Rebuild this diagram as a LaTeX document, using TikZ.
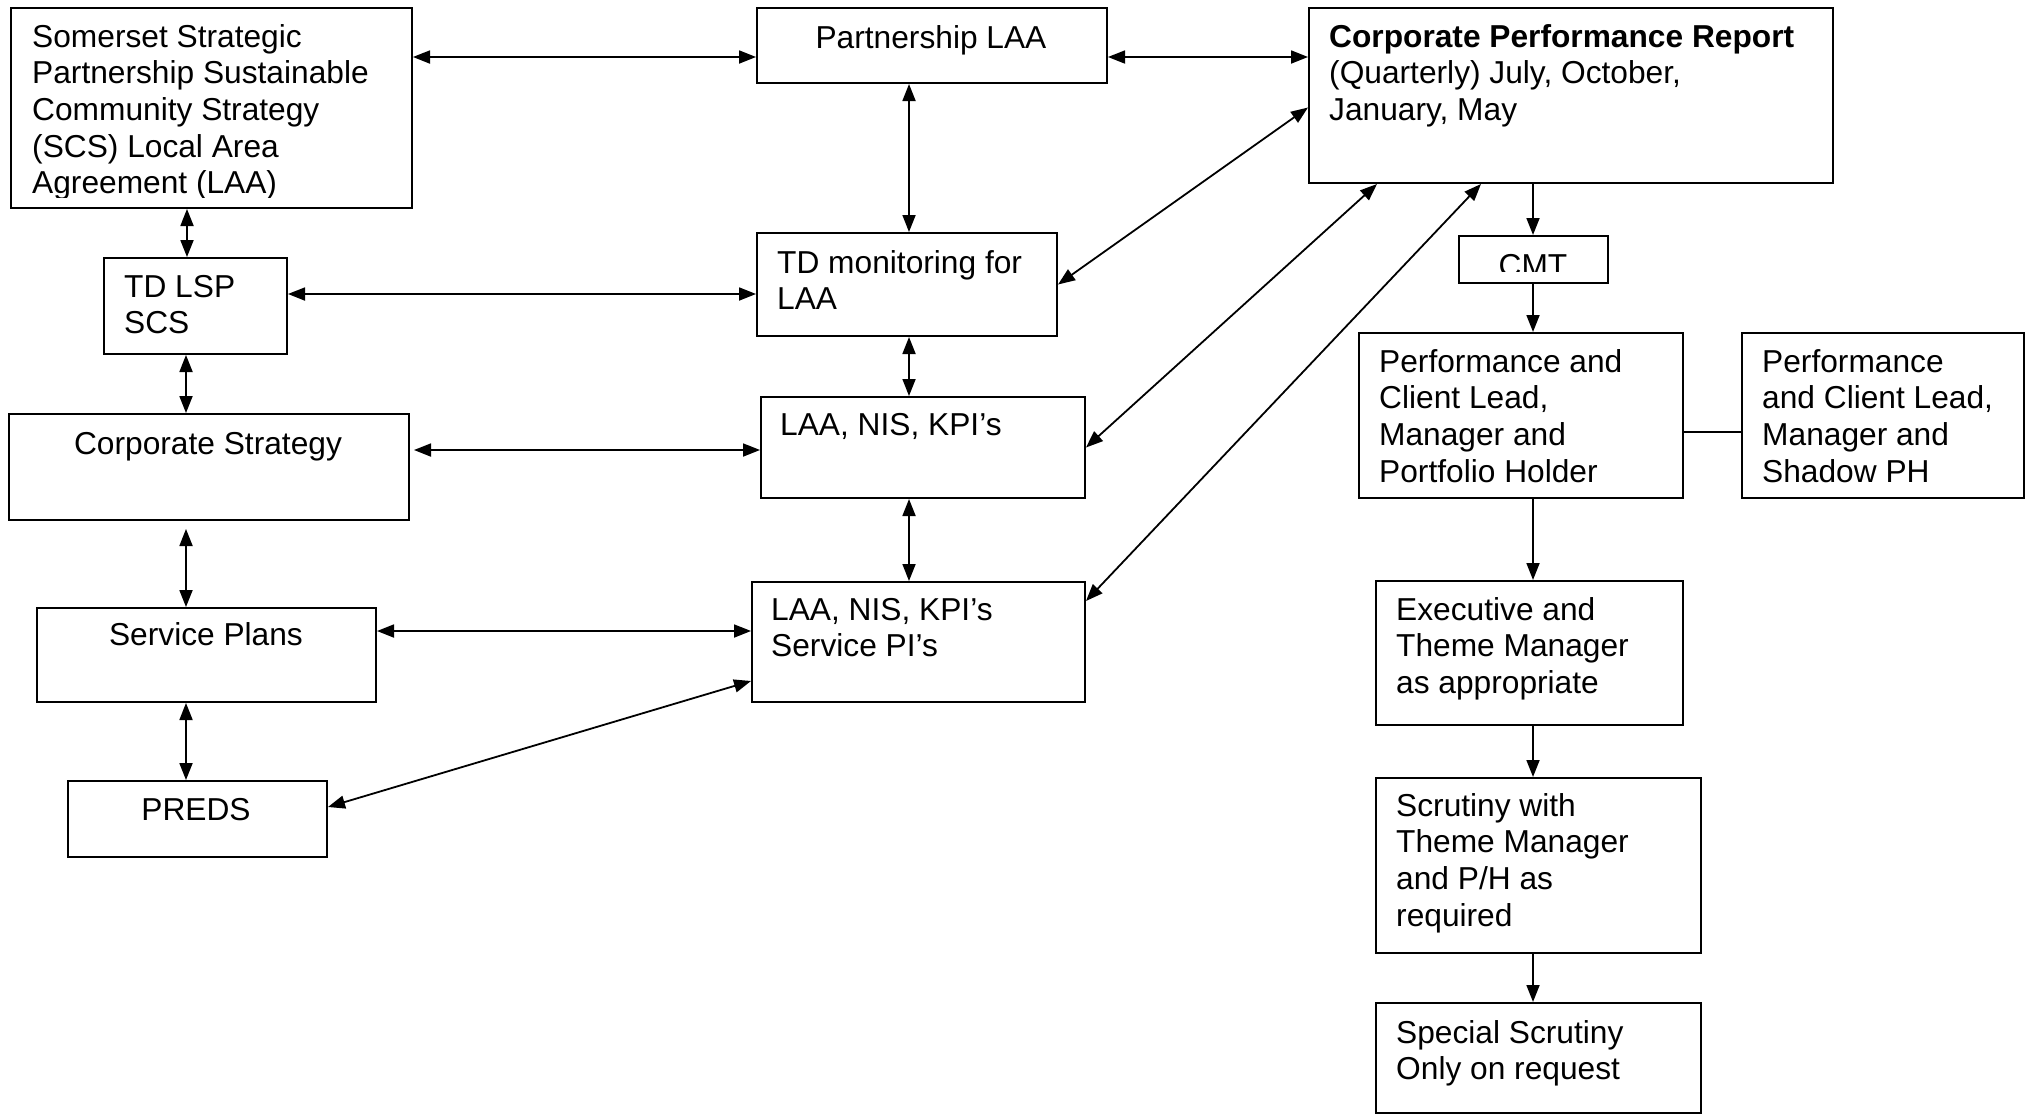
\documentclass[tikz,border=0pt]{standalone}
\usepackage{fontspec}
\setmainfont{Liberation Sans}
\usetikzlibrary{arrows.meta}
\newcommand{\mlines}[1]{\parbox[t]{600pt}{\raggedright #1}}
\begin{document}
\begin{tikzpicture}[x=1pt,y=-1pt,
  every node/.style={font=\fontsize{31.7}{36.7}\selectfont, inner sep=0pt},
  box/.style={draw, line width=2pt, anchor=north west},
  dbl/.style={line width=1.8pt, {Triangle[length=17pt,width=13pt]}-{Triangle[length=17pt,width=13pt]}},
  one/.style={line width=1.8pt, -{Triangle[length=17pt,width=13pt]}},
  plain/.style={line width=1.8pt}]
\useasboundingbox (0,0) rectangle (2029,1114);

% boxes
\node[box, minimum width=401pt, minimum height=200pt] (ssp) at (10,7) {};
\node[box, minimum width=350pt, minimum height=75pt] (plaa) at (756,7) {};
\node[box, minimum width=524pt, minimum height=175pt] (cpr) at (1308,7) {};
\node[box, minimum width=183pt, minimum height=96pt] (tdlsp) at (103,257) {};
\node[box, minimum width=300pt, minimum height=103pt] (tdmon) at (756,232) {};
\node[box, minimum width=149pt, minimum height=47pt] (cmt) at (1458,235) {};
\node[box, minimum width=400pt, minimum height=106pt] (cs) at (8,413) {};
\node[box, minimum width=324pt, minimum height=101pt] (laa1) at (760,396) {};
\node[box, minimum width=324pt, minimum height=165pt] (pcl) at (1358,332) {};
\node[box, minimum width=282pt, minimum height=165pt] (shadow) at (1741,332) {};
\node[box, minimum width=339pt, minimum height=94pt] (sp) at (36,607) {};
\node[box, minimum width=333pt, minimum height=120pt] (laa2) at (751,581) {};
\node[box, minimum width=307pt, minimum height=144pt] (exec) at (1375,580) {};
\node[box, minimum width=259pt, minimum height=76pt] (preds) at (67,780) {};
\node[box, minimum width=325pt, minimum height=175pt] (scr) at (1375,777) {};
\node[box, minimum width=325pt, minimum height=110pt] (special) at (1375,1002) {};

% texts
\begin{scope}
\clip (12,9) rectangle (409,197);
\node[anchor=base west] (ssp-t) at (32,47) {\mlines{Somerset Strategic\\Partnership Sustainable\\Community Strategy\\(SCS) Local Area\\Agreement (LAA)}};
\end{scope}
\node[anchor=base] (plaa-t) at (931,48) {Partnership LAA};
\node[anchor=base west] (cpr-t) at (1329,47) {\mlines{\textbf{Corporate Performance Report}\\(Quarterly) July, October,\\January, May}};
\node[anchor=base west] (tdlsp-t) at (124,297) {\mlines{TD LSP\\SCS}};
\node[anchor=base west] (tdmon-t) at (777,273) {\mlines{TD monitoring for\\LAA}};
\begin{scope}
\clip (1460,237) rectangle (1605,271);
\node[anchor=base] (cmt-t) at (1533,276) {CMT};
\end{scope}
\node[anchor=base] (cs-t) at (208,454) {Corporate Strategy};
\node[anchor=base west] (laa1-t) at (780,435) {LAA, NIS, KPI’s};
\node[anchor=base west] (pcl-t) at (1379,372) {\mlines{Performance and\\Client Lead,\\Manager and\\Portfolio Holder}};
\node[anchor=base west] (shadow-t) at (1762,372) {\mlines{Performance\\and Client Lead,\\Manager and\\Shadow PH}};
\node[anchor=base] (sp-t) at (206,645) {Service Plans};
\node[anchor=base west] (laa2-t) at (771,620) {\mlines{LAA, NIS, KPI’s\\Service PI’s}};
\node[anchor=base west] (exec-t) at (1396,620) {\mlines{Executive and\\Theme Manager\\as appropriate}};
\node[anchor=base] (preds-t) at (196,820) {PREDS};
\node[anchor=base west] (scr-t) at (1396,816) {\mlines{Scrutiny with\\Theme Manager\\and P/H as\\required}};
\node[anchor=base west] (special-t) at (1396,1043) {\mlines{Special Scrutiny\\Only on request}};

% connectors
\draw[dbl] (ssp.east |- 0,57) -- (plaa.west |- 0,57);
\draw[dbl] (plaa.east |- 0,57) -- (cpr.west |- 0,57);
\draw[dbl] (ssp.south -| 187,0) -- (tdlsp.north -| 187,0);
\draw[dbl] (tdlsp.south -| 186,0) -- (cs.north -| 186,0);
\draw[dbl, shorten <=8pt] (cs.south -| 186,0) -- (sp.north -| 186,0);
\draw[dbl] (sp.south -| 186,0) -- (preds.north -| 186,0);
\draw[dbl] (tdlsp.east |- 0,294) -- (tdmon.west |- 0,294);
\draw[dbl] (plaa.south -| 909,0) -- (tdmon.north -| 909,0);
\draw[dbl] (tdmon.south -| 909,0) -- (laa1.north -| 909,0);
\draw[dbl] (laa1.south -| 909,0) -- (laa2.north -| 909,0);
\draw[dbl, shorten <=4pt] (cs.east |- 0,450) -- (laa1.west |- 0,450);
\draw[dbl] (sp.east |- 0,631) -- (laa2.west |- 0,631);
\draw[dbl] ([yshift=12pt]preds.east) -- ([yshift=-39pt]laa2.west);
\draw[dbl] ([yshift=-12pt]cpr.west) -- (tdmon.east);
\draw[dbl] ([xshift=69pt]cpr.south west) -- (laa1.east);
\draw[dbl] ([xshift=173pt]cpr.south west) -- ([yshift=41pt]laa2.east);
\draw[one] (cpr.south -| 1533,0) -- (cmt.north -| 1533,0);
\draw[one] (cmt.south -| 1533,0) -- (pcl.north -| 1533,0);
\draw[plain] (pcl.east |- 0,432) -- (shadow.west |- 0,432);
\draw[one] (pcl.south -| 1533,0) -- (exec.north -| 1533,0);
\draw[one] (exec.south -| 1533,0) -- (scr.north -| 1533,0);
\draw[one] (scr.south -| 1533,0) -- (special.north -| 1533,0);
\end{tikzpicture}
\end{document}
